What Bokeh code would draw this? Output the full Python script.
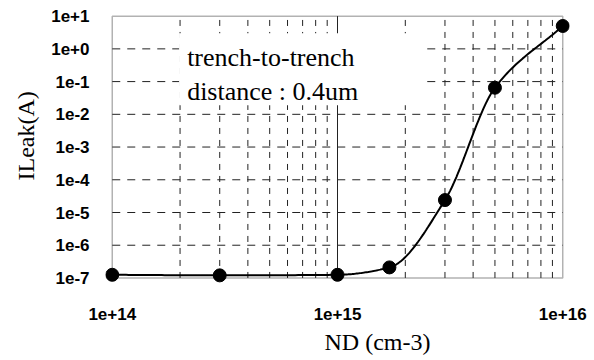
import numpy as np
from bokeh.plotting import figure
from bokeh.models import (FixedTicker, CustomJSTickFormatter, Range1d, Label,
                          BoxAnnotation, Title)
from bokeh.embed import file_html
from bokeh.resources import INLINE

# ---- data ----
nd = [1e14, 3e14, 1e15, 1.7e15, 3e15, 5e15, 1e16]
ileak = [1.25e-7, 1.2e-7, 1.25e-7, 2.1e-7, 2.4e-5, 6.5e-2, 5.0]

x_ticks = [1e14, 1e15, 1e16]
y_ticks = [1e-7, 1e-6, 1e-5, 1e-4, 1e-3, 1e-2, 1e-1, 1e0, 1e1]
annot_lines = ["trench-to-trench", "distance : 0.4um"]
x_title = "ND (cm-3)"
y_title = "ILeak(A)"

x_lo, x_hi = x_ticks[0], x_ticks[-1]
y_lo, y_hi = y_ticks[0], y_ticks[-1]

p = figure(width=594, height=360, x_axis_type="log", y_axis_type="log",
           output_backend="svg", toolbar_location=None,
           x_range=Range1d(x_lo * 10 ** -0.03, x_hi * 10 ** 0.03),
           y_range=Range1d(y_lo * 10 ** -0.2, y_hi * 10 ** 0.05))
p.min_border_left = 103
p.min_border_right = 25
p.min_border_top = 14
p.min_border_bottom = 76
p.outline_line_color = None
p.xgrid.visible = False
p.ygrid.visible = False
p.background_fill_color = "white"
p.border_fill_color = "white"

# ---- grid lines (from tick arrays) ----
minor_x = [k * d for d in x_ticks[:-1] for k in range(2, 10)]
p.segment(x0=minor_x, x1=minor_x, y0=[y_lo] * len(minor_x), y1=[y_hi] * len(minor_x),
          line_color="#222222", line_width=1, line_dash="6 6")
mid_y = y_ticks[1:-1]
p.segment(x0=[x_lo] * len(mid_y), x1=[x_hi] * len(mid_y), y0=mid_y, y1=mid_y,
          line_color="#222222", line_width=1, line_dash="8 7")
mid_x = x_ticks[1:-1]
p.segment(x0=mid_x, x1=mid_x, y0=[y_lo] * len(mid_x), y1=[y_hi] * len(mid_x),
          line_color="#222222", line_width=1)

# frame
p.add_layout(BoxAnnotation(left=x_lo, right=x_hi, bottom=y_lo, top=y_hi,
                           fill_color=None, line_color="black", line_width=1.5,
                           level="underlay"))

# white box behind annotation text
p.add_layout(BoxAnnotation(left=1.98e14, right=2.45e15, bottom=0.019, top=3.0,
                           fill_color="white", fill_alpha=1.0, line_color=None,
                           level="glyph"))

# ---- smooth curve (monotone cubic in log-log space) ----
lx = np.log10(nd)
ly = np.log10(ileak)
h = np.diff(lx)
delta = np.diff(ly) / h
m = np.zeros_like(lx)
m[0], m[-1] = delta[0], delta[-1]
for i in range(1, len(lx) - 1):
    if delta[i - 1] * delta[i] <= 0:
        m[i] = 0
    else:
        w1 = 2 * h[i] + h[i - 1]
        w2 = h[i] + 2 * h[i - 1]
        m[i] = (w1 + w2) / (w1 / delta[i - 1] + w2 / delta[i])
cx, cy = [], []
for i in range(len(lx) - 1):
    t = np.linspace(0, 1, 40)
    h00 = 2 * t**3 - 3 * t**2 + 1
    h10 = t**3 - 2 * t**2 + t
    h01 = -2 * t**3 + 3 * t**2
    h11 = t**3 - t**2
    cx.extend(lx[i] + t * h[i])
    cy.extend(h00 * ly[i] + h10 * h[i] * m[i] + h01 * ly[i + 1] + h11 * h[i] * m[i + 1])
p.line(10 ** np.array(cx), 10 ** np.array(cy), line_color="black", line_width=2)
p.scatter(nd, ileak, size=13, fill_color="black", line_color="black")

# ---- annotation text ----
p.add_layout(Label(x=2.15e14, y=0.56, text=annot_lines[0], text_font="Liberation Serif",
                   text_font_size="26px", text_baseline="middle", text_color="black"))
p.add_layout(Label(x=2.15e14, y=0.051, text=annot_lines[1], text_font="Liberation Serif",
                   text_font_size="26px", text_baseline="middle", text_color="black"))

# ---- axes ----
fmt = CustomJSTickFormatter(code="""
const e = Math.round(Math.log10(tick));
return '1e' + (e >= 0 ? '+' : '-') + Math.abs(e);
""")
for ax, ticks in ((p.xaxis[0], x_ticks), (p.yaxis[0], y_ticks)):
    ax.ticker = FixedTicker(ticks=ticks, minor_ticks=[])
    ax.formatter = fmt
    ax.axis_line_color = None
    ax.major_tick_line_color = None
    ax.minor_tick_line_color = None
    ax.major_label_text_font = "Liberation Sans"
    ax.major_label_text_font_size = "17px"
    ax.major_label_text_font_style = "bold"
    ax.major_label_text_color = "black"

p.xaxis.major_label_standoff = 17
p.yaxis.major_label_standoff = 10

# ---- axis titles (as side-panel titles, offset like the original) ----
p.add_layout(Title(text=x_title, align="left", offset=219, standoff=9,
                   text_font="Liberation Serif", text_font_size="24px",
                   text_font_style="normal", text_color="black"), "below")
p.add_layout(Title(text=y_title, align="left", offset=104, standoff=20,
                   text_font="Liberation Serif", text_font_size="24px",
                   text_font_style="normal", text_color="black"), "left")

open("out.html", "w").write(file_html(p, INLINE))
